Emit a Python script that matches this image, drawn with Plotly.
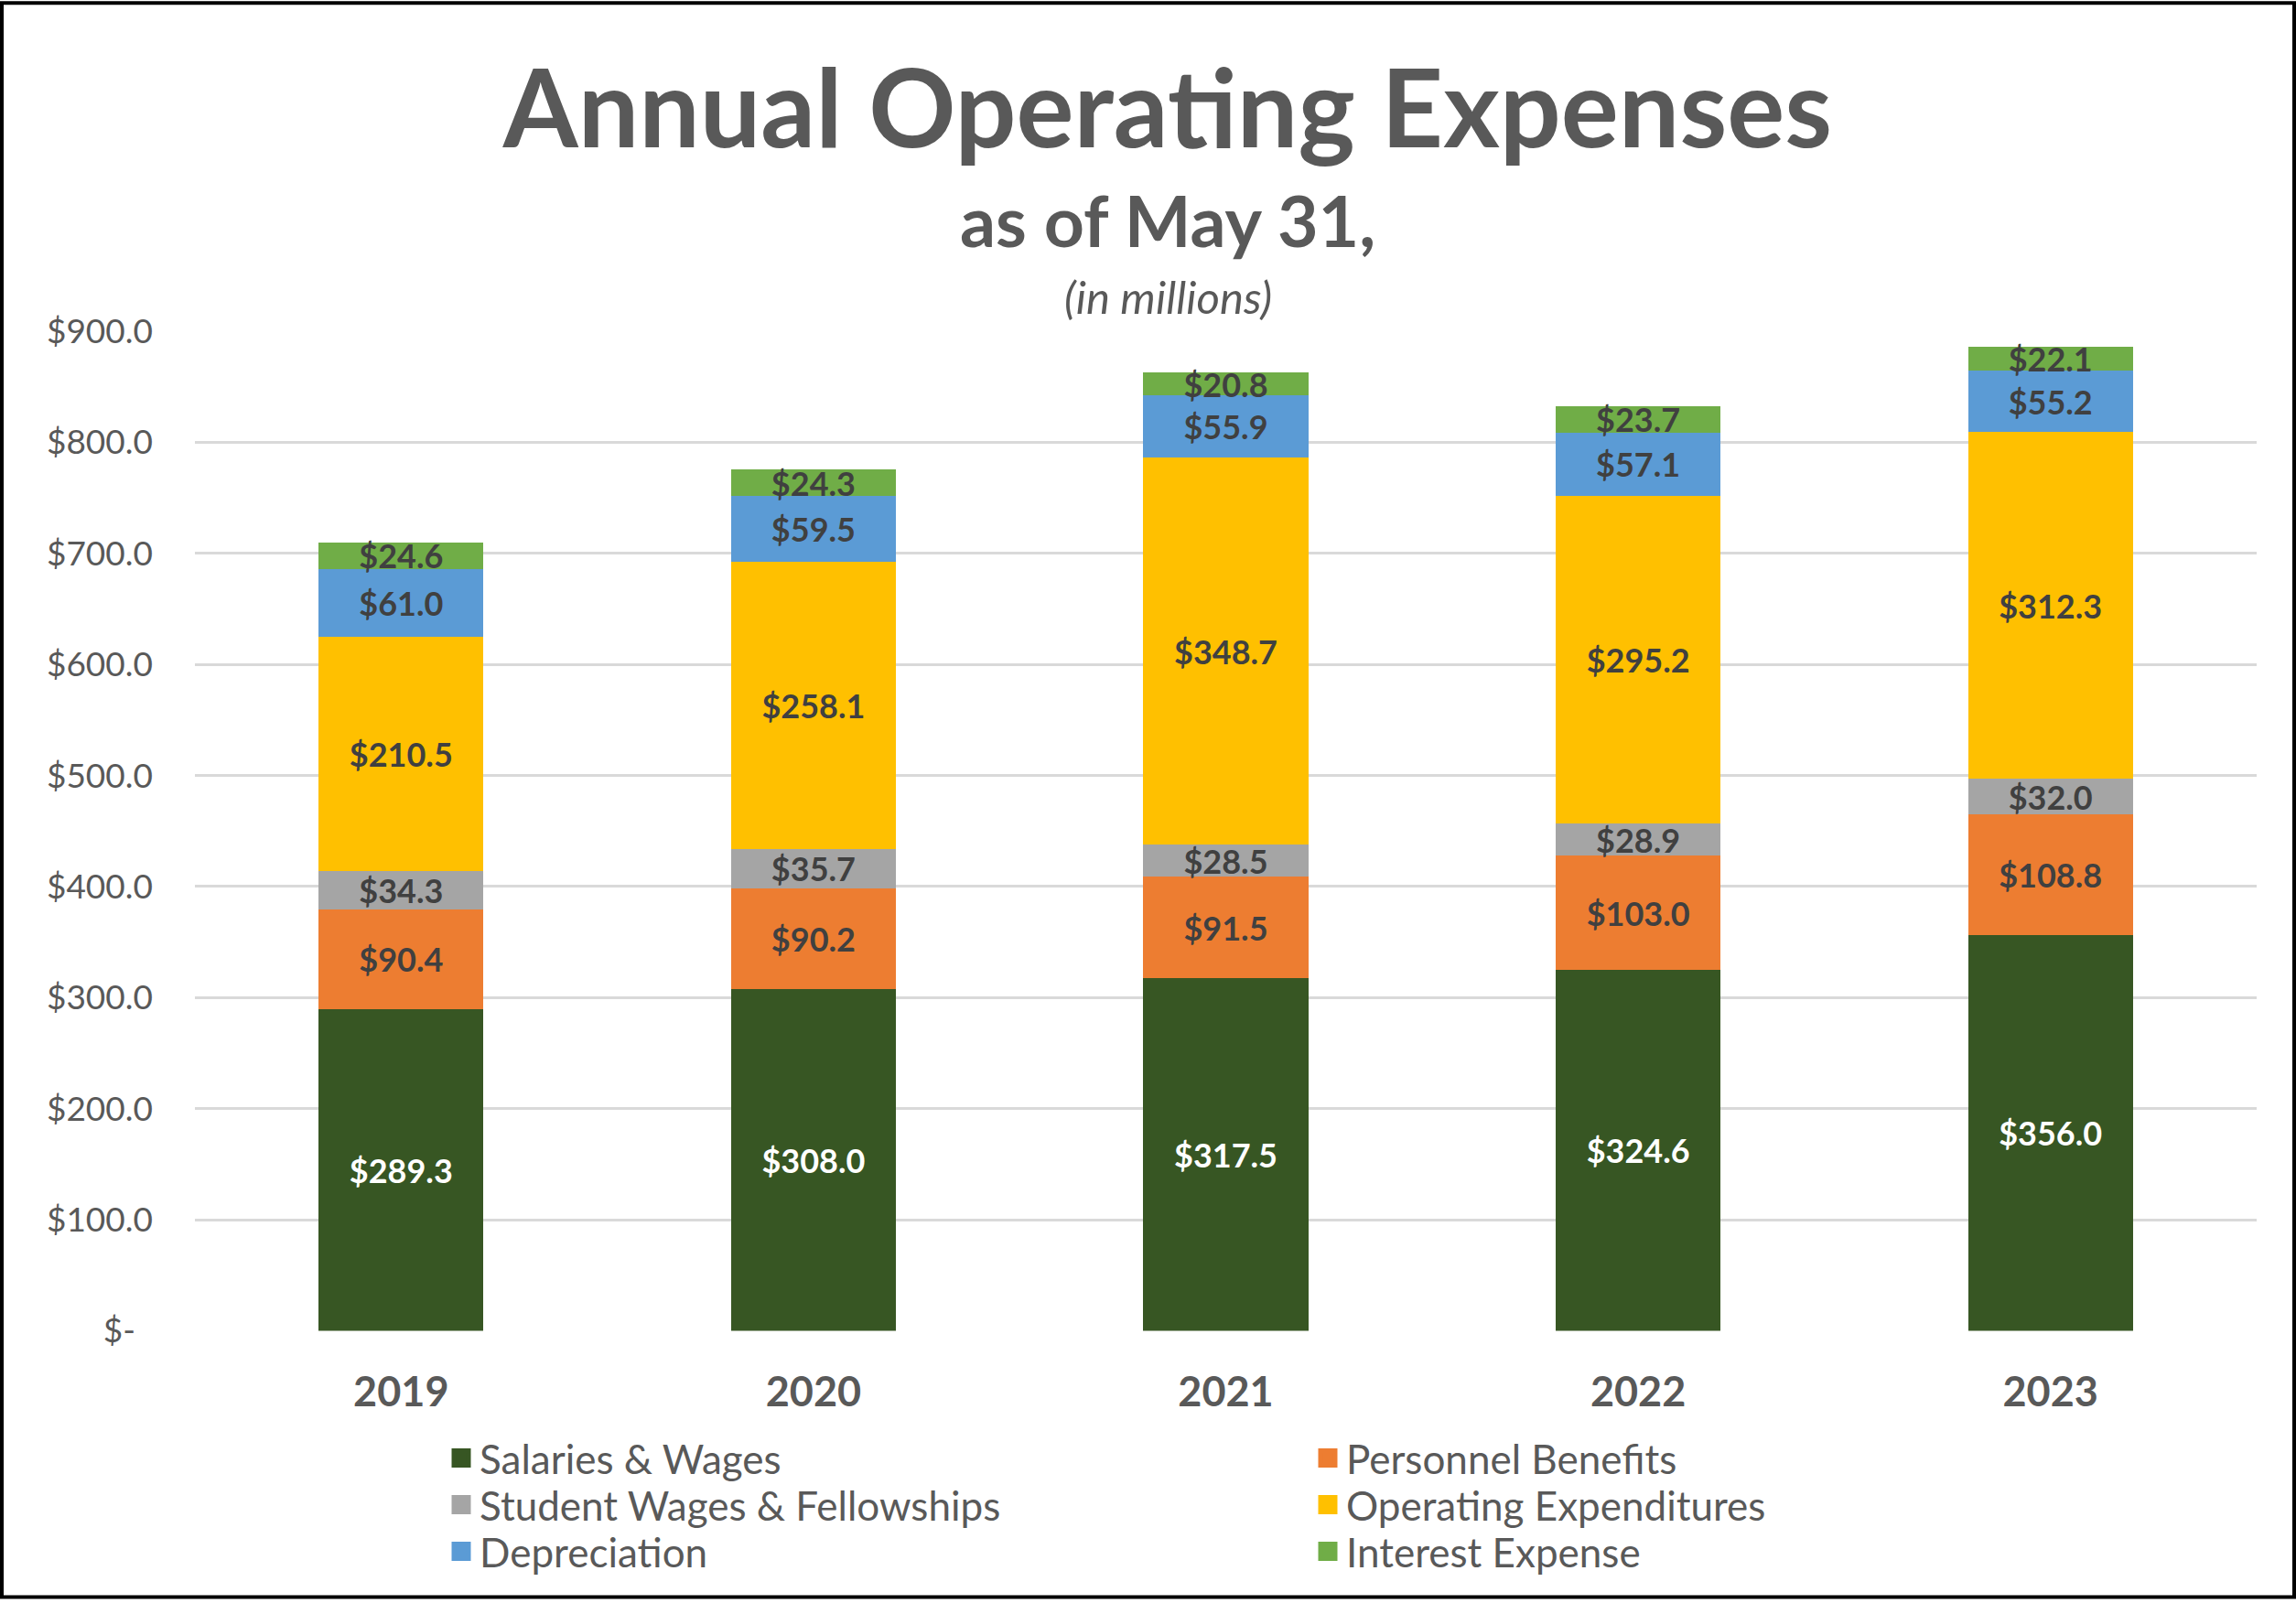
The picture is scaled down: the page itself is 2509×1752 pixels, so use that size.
import plotly.graph_objects as go

years = ["2019", "2020", "2021", "2022", "2023"]
salaries = [289.3, 308.0, 317.5, 324.6, 356.0]
benefits = [90.4, 90.2, 91.5, 103.0, 108.8]
student = [34.3, 35.7, 28.5, 28.9, 32.0]
operating = [210.5, 258.1, 348.7, 295.2, 312.3]
depreciation = [61.0, 59.5, 55.9, 57.1, 55.2]
interest = [24.6, 24.3, 20.8, 23.7, 22.1]

series_names = ["Salaries & Wages", "Personnel Benefits", "Student Wages & Fellowships",
                "Operating Expenditures", "Depreciation", "Interest Expense"]
series_values = [salaries, benefits, student, operating, depreciation, interest]
series_colors = ["#375623", "#ED7D31", "#A5A5A5", "#FFC000", "#5B9BD5", "#70AD47"]
label_colors = ["#FFFFFF", "#404040", "#404040", "#404040", "#404040", "#404040"]
legend_rows = ["legend", "legend", "legend2", "legend2", "legend3", "legend3"]

tick_vals = [0, 100, 200, 300, 400, 500, 600, 700, 800, 900]
tick_text = ["$-\u00a0\u00a0", "$100.0", "$200.0", "$300.0", "$400.0", "$500.0",
             "$600.0", "$700.0", "$800.0", "$900.0"]

W, H = 2509, 1752
ML, MR, MT, MB = 213, 43, 362, 294
FONT = "Lato"
GRAY = "#595959"

fig = go.Figure()
for name, vals, col, lcol in zip(series_names, series_values, series_colors, label_colors):
    fig.add_trace(go.Bar(
        x=years, y=vals, name=name, showlegend=False, legendgroup=name,
        marker=dict(color=col, line=dict(width=0)),
        texttemplate="<b>$%{y:.1f}</b>", textposition="inside", insidetextanchor="middle",
        textangle=0, constraintext="none",
        textfont=dict(family=FONT, size=36, color=lcol),
    ))
# legend entries (square swatches) for each series
for name, col, lg in zip(series_names, series_colors, legend_rows):
    fig.add_trace(go.Scatter(
        x=[None], y=[None], mode="markers", name=name, legendgroup=name, legend=lg,
        marker=dict(symbol="square", size=26, color=col, line=dict(color=col, width=5)),
        showlegend=True,
    ))

ph = H - MT - MB
def py(pix):
    return (H - MB - pix) / ph

CXP = 1276  # horizontal centre of the title block, pixels
cx = (CXP - ML) / (W - ML - MR)

def legend_row(ypix):
    return dict(orientation="h", xref="container", yref="container",
                x=484 / W, xanchor="left", y=1 - ypix / H, yanchor="middle",
                entrywidth=902, entrywidthmode="pixels", itemsizing="trace",
                font=dict(family=FONT, size=44, color=GRAY),
                traceorder="normal", bgcolor="rgba(0,0,0,0)")

fig.update_layout(
    width=W, height=H, autosize=False,
    barmode="stack", bargap=0.6,
    plot_bgcolor="white", paper_bgcolor="white",
    margin=dict(l=ML, r=MR, t=MT, b=MB, pad=0),
    font=dict(family=FONT, color=GRAY),
    title=dict(text="<b>Annual Operating Expenses</b>", x=CXP / W, xref="container",
               y=1 - 120 / H, yref="container", yanchor="middle", xanchor="center",
               font=dict(family=FONT, size=118, color=GRAY)),
    xaxis=dict(showgrid=False, showline=False, zeroline=False, ticks="",
               tickfont=dict(family=FONT, size=45, color=GRAY, weight="bold"),
               ticklabelstandoff=36),
    yaxis=dict(range=[0, 900], tickvals=tick_vals, ticktext=tick_text,
               showgrid=True, gridcolor="#D9D9D9", gridwidth=3, zeroline=False,
               showline=False, ticks="",
               tickfont=dict(family=FONT, size=37, color=GRAY),
               ticklabelstandoff=45),
    legend=legend_row(1594),
    legend2=legend_row(1645),
    legend3=legend_row(1696),
    showlegend=True,
    annotations=[
        dict(text="<b>as of May 31,</b>", xref="paper", yref="paper", x=cx, y=py(240),
             showarrow=False, xanchor="center", yanchor="middle",
             font=dict(family=FONT, size=77, color=GRAY)),
        dict(text="<i>(in millions)</i>", xref="paper", yref="paper", x=cx, y=py(324),
             showarrow=False, xanchor="center", yanchor="middle",
             font=dict(family=FONT, size=49, color=GRAY)),
    ],
    shapes=[dict(type="rect", xref="paper", yref="paper",
                 x0=-(ML - 2) / (W - ML - MR), x1=1 + (MR - 2) / (W - ML - MR),
                 y0=-(MB - 2) / ph, y1=1 + (MT - 2) / ph,
                 line=dict(color="black", width=4), fillcolor="rgba(0,0,0,0)",
                 layer="below")],
)

fig.write_html("out.html", config={"displayModeBar": False},
               post_script="document.body.style.margin='0';document.body.style.padding='0';"
                           "document.body.style.overflow='hidden';")
